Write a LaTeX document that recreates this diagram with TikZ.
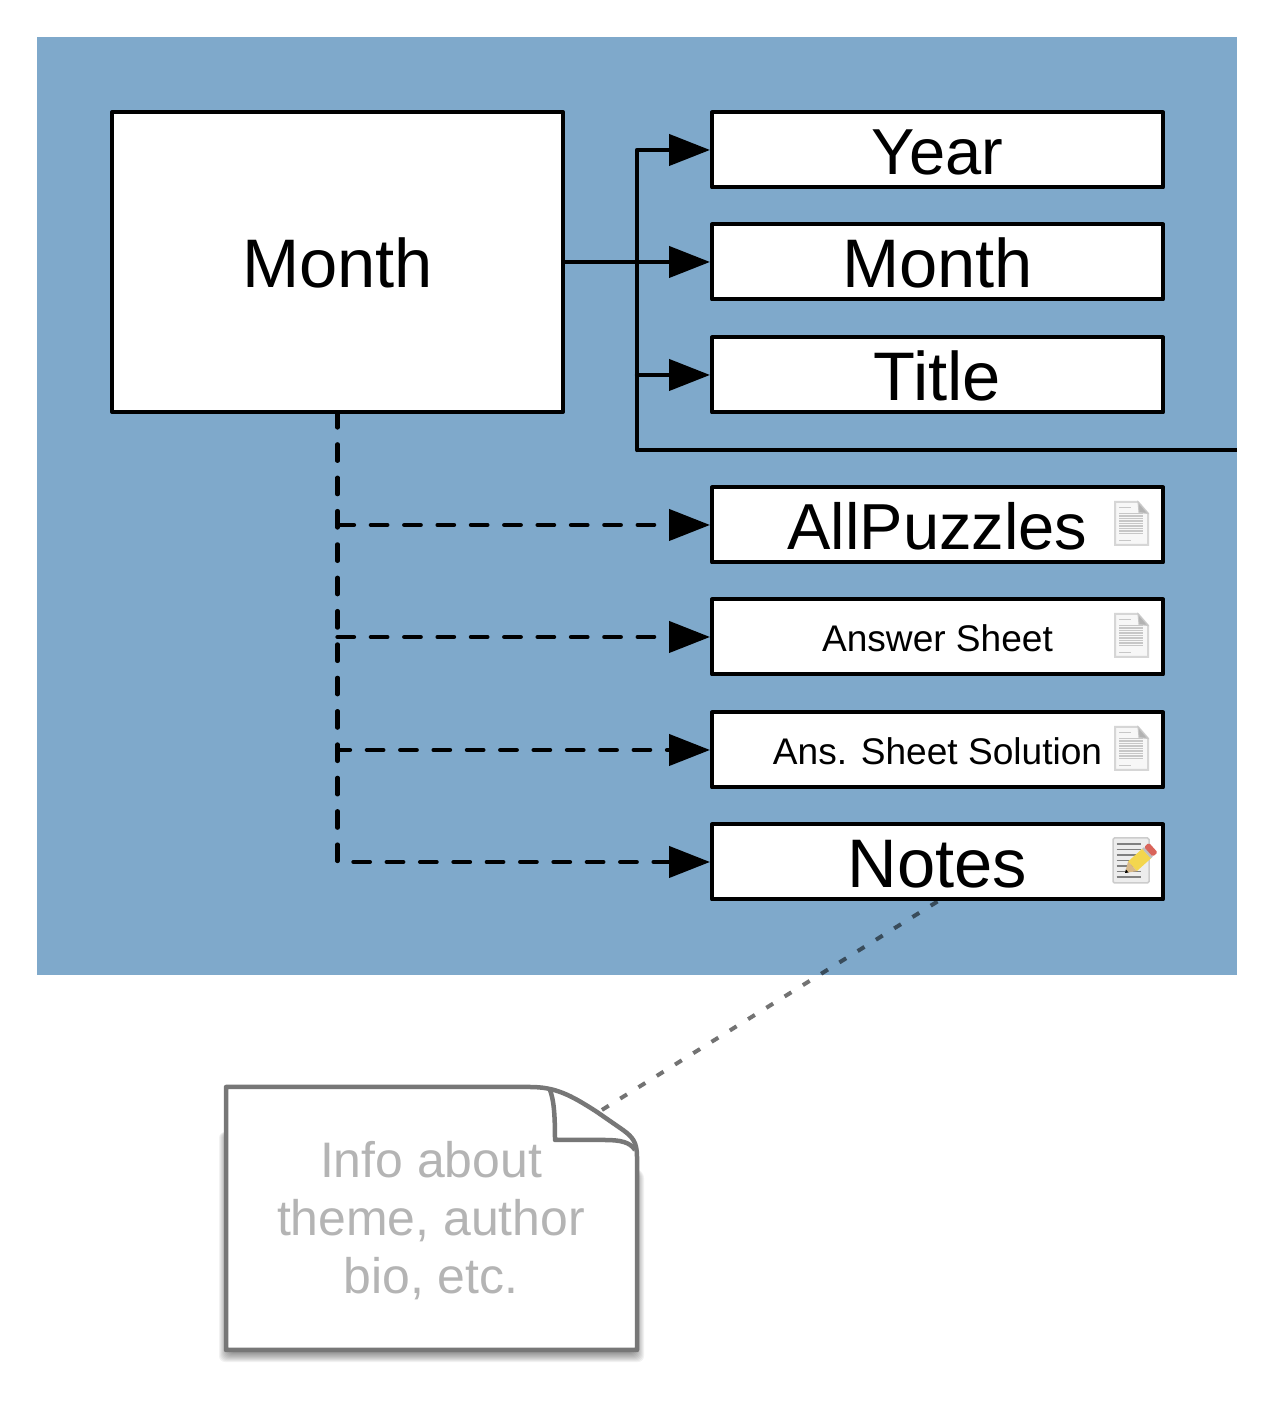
\documentclass[tikz,border=0pt]{standalone}
\usepackage{fontspec}
\setmainfont{Liberation Sans}
\usetikzlibrary{arrows.meta}

\definecolor{panelblue}{HTML}{7FA9CB}
\definecolor{notegrey}{HTML}{777777}
\definecolor{notetext}{HTML}{B4B4B4}
\definecolor{pencilyellow}{HTML}{F3D64E}
\definecolor{pencilred}{HTML}{D9645A}
\definecolor{pencilwood}{HTML}{D8B888}

\tikzset{
  box/.style = {rectangle, fill = white, draw, line width = 0.08cm, line join = round, minimum width = 9.02cm, minimum height = 1.5cm, inner sep = 0pt},
  bigtext/.style = {font = \fontsize{39.1}{44}\selectfont, text height = 1.02cm, text depth = 0cm},
  trimtext/.style = {font = \fontsize{37}{44}\selectfont, text height = 0.98cm, text depth = 0cm},
  smalltext/.style = {font = \fontsize{21.1}{26}\selectfont, text height = 0.58cm, text depth = 0cm},
  link/.style = {line width = 0.085cm, line join = round, line cap = round, -{Triangle[length = 0.82cm, width = 0.62cm]}},
  plainlink/.style = {line width = 0.085cm, line join = round, line cap = round},
  dashlink/.style = {link, dash pattern = on 0.33cm off 0.337cm},
}

\newcommand{\docicon}[1]{
  \begin{scope}[shift = {(#1.center)}, xshift = 3.88cm, yshift = 0.03cm]
    \filldraw[fill = white!97!black, draw = black!16, line width = 0.04cm] (-0.33, -0.43) -- (-0.33, 0.43) -- (0.13, 0.43) -- (0.33, 0.2) -- (0.33, -0.43) -- cycle;
    \filldraw[fill = black!30, draw = black!22, line width = 0.02cm] (0.13, 0.43) -- (0.15, 0.22) -- (0.33, 0.2) -- cycle;
    \foreach \rowy in {0.2, 0.15, 0.1, 0.05, 0, -0.05, -0.1, -0.15, -0.2}
      \draw[black!22, line width = 0.03cm] (-0.25, \rowy) -- (0.22, \rowy);
    \draw[black!22, line width = 0.03cm] (-0.25, 0.32) -- (-0.02, 0.32);
    \draw[black!22, line width = 0.03cm] (-0.25, -0.34) -- (-0.02, -0.34);
  \end{scope}
}

\newcommand{\pencilicon}[1]{
  \begin{scope}[shift = {(#1.center)}, xshift = 3.87cm, yshift = 0.03cm]
    \filldraw[fill = black!7, draw = black!20, line width = 0.03cm, rounded corners = 0.03cm] (-0.36, -0.45) rectangle (0.36, 0.45);
    \foreach \rowy in {0.33, 0.22, 0.11, 0, -0.11, -0.22, -0.33}
      \draw[black!50, line width = 0.025cm] (-0.29, \rowy) -- (0.2, \rowy);
    \begin{scope}[shift = {(-0.12, -0.25)}, rotate = 42]
      \fill[pencilyellow] (0.2, -0.13) rectangle (0.58, 0.13);
      \fill[pencilwood] (0, 0) -- (0.2, 0.13) -- (0.2, -0.13) -- cycle;
      \fill[black] (0, 0) -- (0.06, 0.04) -- (0.06, -0.04) -- cycle;
      \fill[black!25] (0.58, -0.13) rectangle (0.63, 0.13);
      \fill[pencilred, rounded corners = 0.03cm] (0.63, -0.13) rectangle (0.76, 0.13);
    \end{scope}
  \end{scope}
}

\begin{document}
\begin{tikzpicture}

\useasboundingbox (0, 0) rectangle (25.56, 28.24);

\fill[panelblue] (0.74, 8.74) rectangle (24.74, 27.5);

%%% Month and its fields
\node [box, minimum height = 6cm, bigtext] (monthbox) at (6.75, 23) {Month};

\node [box, trimtext] (yearbox) at (18.75, 25.24) {Year};
\node [box, bigtext] (monthfield) at (18.75, 23) {Month};
\node [box, bigtext] (titlebox) at (18.75, 20.74) {Title};

%%% Files
\node [box, trimtext] (allbox) at (18.75, 17.74) {AllPuzzles};
\node [box, smalltext] (answerbox) at (18.75, 15.5) {Answer Sheet};
\node [box, smalltext] (solutionbox) at (18.75, 13.24) {Ans. Sheet Solution};
\node [box, bigtext] (notesbox) at (18.75, 11) {Notes};

\docicon{allbox}
\docicon{answerbox}
\docicon{solutionbox}
\pencilicon{notesbox}

%%% Solid lines
\coordinate (trunkfoot) at (12.74, 19.24);
\coordinate (trunkend) at (24.74, 19.24);

\draw[link] (monthbox.east) -- (monthfield.west);
\draw[link] (trunkfoot) |- (yearbox.west);
\draw[link] (trunkfoot |- titlebox.west) -- (titlebox.west);
\draw[plainlink, line cap = butt] (trunkfoot) -- (trunkend);

%%% Dashed lines
\draw[dashlink, dash phase = 0.06cm] (monthbox.south) |- (notesbox.west);
\draw[dashlink] (monthbox.south |- allbox.west) -- (allbox.west);
\draw[dashlink] (monthbox.south |- answerbox.west) -- (answerbox.west);
\draw[dashlink, dash phase = 0.08cm] (monthbox.south |- solutionbox.west) -- (solutionbox.west);

%%% Note
\foreach \blur in {-0.1, -0.08, ..., 0.16}
  \fill[black, opacity = 0.05, rounded corners = 0.12cm] (4.52 - \blur, 1.14 - \blur) -- (4.52 - \blur, 5.6) -- (11, 5.6) -- (12.74 + \blur, 4.8) -- (12.74 + \blur, 1.14 - \blur) -- cycle;
\filldraw[fill = white, draw = notegrey, line width = 0.09cm, line join = round] (4.52, 1.24) -- (4.52, 6.5) -- (10.6, 6.5) .. controls (11.1, 6.5) and (11.4, 6.35) .. (11.94, 6) -- (12.46, 5.64) .. controls (12.65, 5.5) and (12.74, 5.4) .. (12.74, 5.1) -- (12.74, 1.24) -- cycle;
\draw[notegrey, line width = 0.09cm, line join = round] (11, 6.44) .. controls (11.07, 6.25) and (11.1, 6) .. (11.1, 5.44) -- (12.1, 5.44) .. controls (12.4, 5.44) and (12.6, 5.4) .. (12.7, 5.24);

\node [text = notetext, align = center, font = \fontsize{28.4}{33}\selectfont] (notetext) at (8.62, 3.82) {Info about\\theme, author\\bio, etc.};

\coordinate (notefold) at (11.94, 5.98);
\draw[black, opacity = 0.55, line width = 0.08cm, dash pattern = on 0.16cm off 0.27cm] (notesbox.south) -- (notefold);

\end{tikzpicture}
\end{document}
